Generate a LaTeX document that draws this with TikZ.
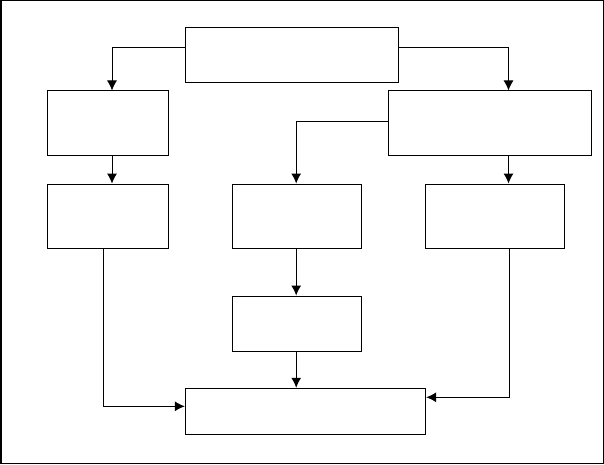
\documentclass[tikz,border=0pt]{standalone}
\usetikzlibrary{arrows.meta}
\begin{document}
\begin{tikzpicture}[x=1pt, y=1pt, -{Latex[length=10pt,width=10pt]}, line width=1pt, main node/.style={draw, inner sep=0pt}]
            \useasboundingbox (0,0) rectangle (604,464);
            \draw[-, line width=1.5pt] (0.75,0.75) rectangle (603.25,463.25);
            \node[main node, minimum width=213pt, minimum height=55pt] (1) at (291.8,409.2) {};
            \node[main node, minimum width=120.6pt, minimum height=65pt] (2) at (107.7,340.5) {};
            \node[main node, minimum width=203pt, minimum height=65pt] (3) at (489.8,340.5) {};
            \node[main node, minimum width=120.6pt, minimum height=64.3pt] (4) at (107.7,247.8) {};
            \node[main node, minimum width=129pt, minimum height=64.3pt] (5) at (296.8,247.8) {};
            \node[main node, minimum width=138.7pt, minimum height=64.3pt] (6) at (494.7,247.8) {};
            \node[main node, minimum width=129pt, minimum height=55.3pt] (7) at (296.8,140.3) {};
            \node[main node, minimum width=240.3pt, minimum height=46pt] (8) at (305.5,52.7) {};
            \draw ([yshift=7.5pt]1.west) -| ([xshift=4.3pt]2.north);
            \draw ([yshift=7.5pt]1.east) -| ([xshift=18.7pt]3.north);
            \draw ([yshift=2.2pt]3.west) -| ([xshift=-0.6pt]5.north);
            \draw ([xshift=4.3pt]2.south) -- ([xshift=4.3pt]4.north);
            \draw ([xshift=18.7pt]3.south) -- ([xshift=18.7pt]3.south |- 6.north);
            \draw ([xshift=-0.6pt]5.south) -- ([xshift=-0.6pt]7.north);
            \draw ([xshift=-0.6pt]7.south) -- ([xshift=-0.6pt]7.south |- 8.north);
            \draw ([xshift=-4.5pt]4.south) |- ([yshift=5pt]8.west);
            \draw ([xshift=14.5pt]6.south) |- ([yshift=14pt]8.east);
        \end{tikzpicture}
\end{document}
